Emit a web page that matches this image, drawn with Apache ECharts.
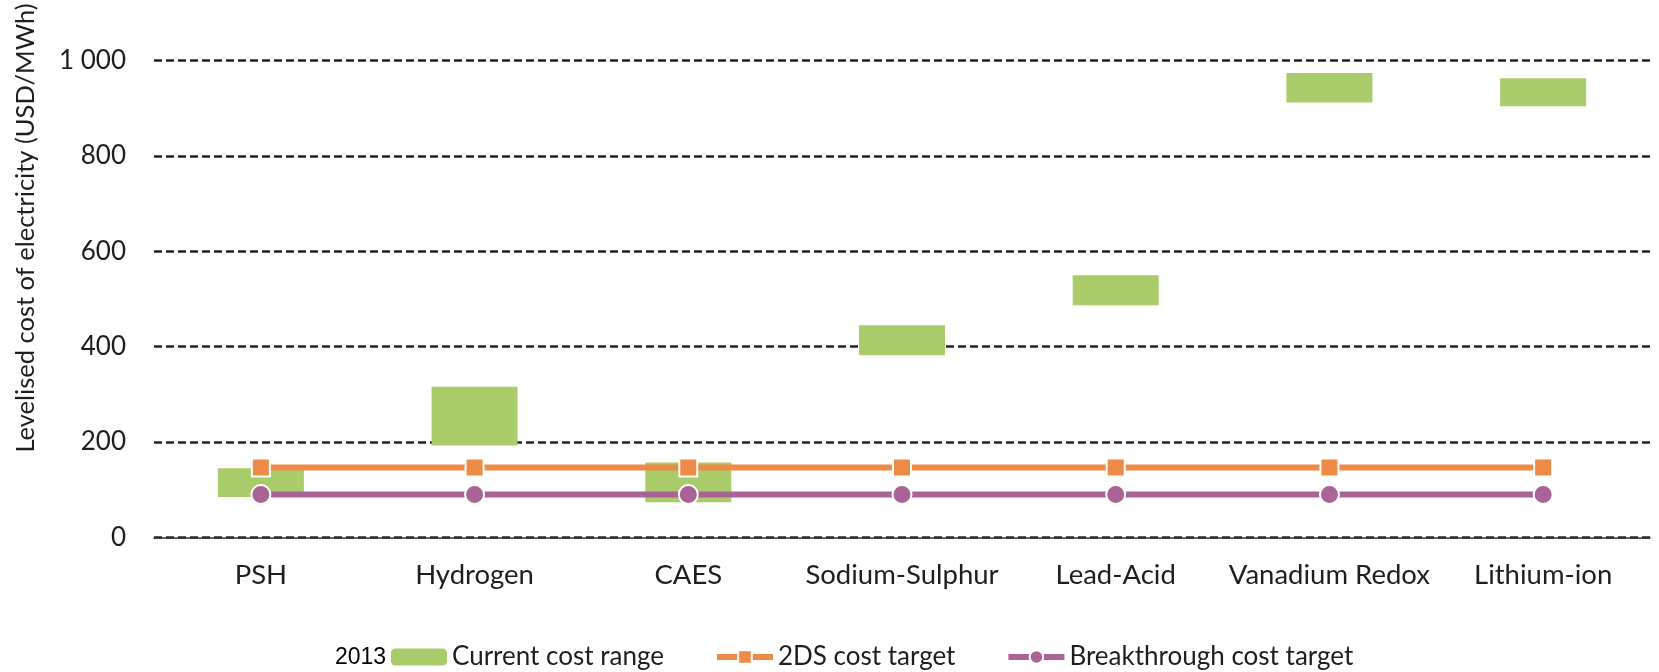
<!DOCTYPE html>
<html>
<head>
<meta charset="utf-8">
<title>Levelised cost of electricity by storage technology</title>
<script src="https://cdn.jsdelivr.net/npm/echarts@6/dist/echarts.min.js"></script>
<style>
  html, body { margin: 0; padding: 0; background: #fff; }
  #chart { width: 1659px; height: 672px; }
</style>
</head>
<body>
<div id="chart"></div>
<script>
// Storage technologies on the category axis
const categories = ['PSH', 'Hydrogen', 'CAES', 'Sodium-Sulphur', 'Lead-Acid', 'Vanadium Redox', 'Lithium-ion'];

// Current (2013) cost range, USD/MWh
const costLow  = [85, 193, 74, 382, 487, 912, 904];
const costHigh = [145, 316, 157, 445, 550, 974, 963];

// Cost targets, USD/MWh
const target2DS = [147, 147, 147, 147, 147, 147, 147];
const targetBreakthrough = [90, 90, 90, 90, 90, 90, 90];

// Value axis ticks
const yTicks = [0, 200, 400, 600, 800, 1000];

const FONT = 'Lato, "Open Sans", "DejaVu Sans", sans-serif';
const TEXT = '#1e1e1e';
const GREEN = '#A9CB69';
const ORANGE = '#EC8A46';
const PURPLE = '#AA6396';

const rangeSpan = costHigh.map((h, i) => h - costLow[i]);

const chart = echarts.init(document.getElementById('chart'), null, { renderer: 'canvas' });

chart.setOption({
  animation: false,
  backgroundColor: '#ffffff',
  textStyle: { fontFamily: FONT, color: TEXT },
  grid: { left: 154, right: 9, top: 60.5, bottom: 134.5, containLabel: false },
  xAxis: {
    type: 'category',
    data: categories,
    boundaryGap: true,
    axisLine: { show: true, onZero: true, lineStyle: { color: '#333', width: 1.5 } },
    axisTick: { show: false },
    axisLabel: { interval: 0, fontFamily: FONT, fontSize: 27.5, color: TEXT, margin: 24 },
    splitLine: { show: false }
  },
  yAxis: {
    type: 'value',
    min: yTicks[0],
    max: yTicks[yTicks.length - 1],
    interval: 200,
    axisLine: { show: false },
    axisTick: { show: false },
    axisLabel: {
      fontFamily: FONT, fontSize: 26, color: TEXT, margin: 28,
      formatter: v => v >= 1000 ? String(v).replace(/\B(?=(\d{3})+(?!\d))/g, ' ') : String(v)
    },
    splitLine: { show: true, lineStyle: { color: '#222', width: 2.5, type: [8, 4] } }
  },
  legend: {
    left: 391,
    top: 644,
    padding: 0,
    itemWidth: 56,
    itemHeight: 17,
    itemGap: 50,
    textStyle: { fontFamily: FONT, fontSize: 26, color: TEXT },
    data: [
      { name: 'Current cost range' },
      { name: '2DS cost target', lineStyle: { width: 6 } },
      { name: 'Breakthrough cost target', lineStyle: { width: 6 } }
    ]
  },
  graphic: [
    {
      type: 'text',
      x: 335,
      y: 658,
      style: {
        text: '2013', fontFamily: '"Liberation Sans", Arial, sans-serif', fontSize: 23, fill: '#000',
        verticalAlign: 'middle'
      }
    },
    {
      type: 'text',
      x: 26,
      y: 228,
      rotation: Math.PI / 2,
      style: {
        text: 'Levelised cost of electricity (USD/MWh)',
        fontFamily: FONT, fontSize: 25.5, fill: TEXT,
        align: 'center', verticalAlign: 'middle'
      }
    }
  ],
  series: [
    {
      name: 'base',
      type: 'bar',
      stack: 'range',
      barWidth: 86,
      data: costLow,
      itemStyle: { color: 'transparent' },
      emphasis: { disabled: true },
      z: 1
    },
    {
      name: 'Current cost range',
      type: 'bar',
      stack: 'range',
      barWidth: 86,
      data: rangeSpan,
      itemStyle: { color: GREEN },
      z: 1
    },
    {
      name: '2DS cost target',
      type: 'line',
      data: target2DS,
      symbol: 'rect',
      symbolSize: 18,
      lineStyle: { color: ORANGE, width: 6 },
      itemStyle: { color: ORANGE, borderColor: '#fff', borderWidth: 2 },
      z: 3
    },
    {
      name: 'Breakthrough cost target',
      type: 'line',
      data: targetBreakthrough,
      symbol: 'circle',
      symbolSize: 19,
      lineStyle: { color: PURPLE, width: 6 },
      itemStyle: { color: PURPLE, borderColor: '#fff', borderWidth: 2 },
      z: 4
    }
  ]
});
</script>
</body>
</html>
